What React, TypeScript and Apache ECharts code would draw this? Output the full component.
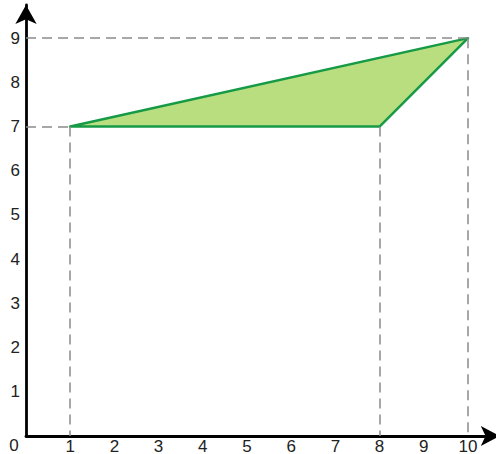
import React, { useEffect, useRef } from "react";
import * as echarts from "echarts";

const polygonX = [1, 10, 8];
const polygonY = [7, 9, 7];
const xTicks = [1, 2, 3, 4, 5, 6, 7, 8, 9, 10];
const yTicks = [1, 2, 3, 4, 5, 6, 7, 8, 9];
// dashed guides: start and end points
const guideFrom = [[0, 9], [0, 7], [1, 7], [8, 7], [10, 9]];
const guideTo = [[10, 9], [1, 7], [1, 0], [8, 0], [10, 0]];

export default function App() {
  const ref = useRef<HTMLDivElement>(null);
  useEffect(() => {
    const chart = echarts.init(ref.current!, null, { renderer: "svg" });
    const verts = polygonX.map((x, i) => [x, polygonY[i]]);
    const fmt = (ticks: number[]) => (v: number) => (ticks.includes(v) ? String(v) : "");
    const font = "Liberation Sans, Arial, sans-serif";
    chart.setOption({
      animation: false,
      grid: {
        left: 26,
        top: 5,
        width: 473.8,
        height: 431,
        containLabel: false,
        outerBoundsMode: "none",
      },
      xAxis: {
        type: "value",
        min: 0,
        max: 10.72,
        interval: 1,
        splitLine: { show: false },
        axisTick: { show: false },
        axisLine: {
          lineStyle: { color: "#000", width: 2.8 },
          symbol: ["none", "arrow"],
          symbolSize: [15, 19],
        },
        axisLabel: {
          formatter: fmt(xTicks),
          color: "#222",
          fontSize: 17,
          lineHeight: 16,
          fontFamily: font,
          margin: 2,
        },
      },
      yAxis: {
        type: "value",
        min: 0,
        max: 9.75,
        interval: 1,
        splitLine: { show: false },
        axisTick: { show: false },
        axisLine: {
          lineStyle: { color: "#000", width: 2.8 },
          symbol: ["none", "arrow"],
          symbolSize: [16, 19],
        },
        axisLabel: {
          formatter: fmt(yTicks),
          color: "#222",
          fontSize: 17,
          fontFamily: font,
          margin: 6,
        },
      },
      graphic: [
        {
          type: "text",
          x: 14,
          y: 445,
          style: {
            text: "0",
            fontSize: 17,
            fill: "#222",
            fontFamily: font,
            align: "center",
            verticalAlign: "middle",
          },
        },
      ],
      series: [
        {
          type: "custom",
          data: [0],
          z: 3,
          renderItem: (_p: any, api: any) => ({
            type: "polygon",
            shape: { points: verts.map((v) => api.coord(v)) },
            style: { fill: "#b8de80", stroke: "#169a46", lineWidth: 2.5, lineJoin: "round" },
          }),
          markLine: {
            silent: true,
            symbol: ["none", "none"],
            label: { show: false },
            lineStyle: { color: "#8a8a8a", type: [10, 6], width: 1.5 },
            data: guideFrom.map((f, i) => [{ coord: f }, { coord: guideTo[i] }]),
          },
        },
      ],
    });
    return () => chart.dispose();
  }, []);
  return (
    <div
      ref={ref}
      style={{ position: "absolute", left: 0, top: 0, width: 496, height: 454 }}
    />
  );
}
